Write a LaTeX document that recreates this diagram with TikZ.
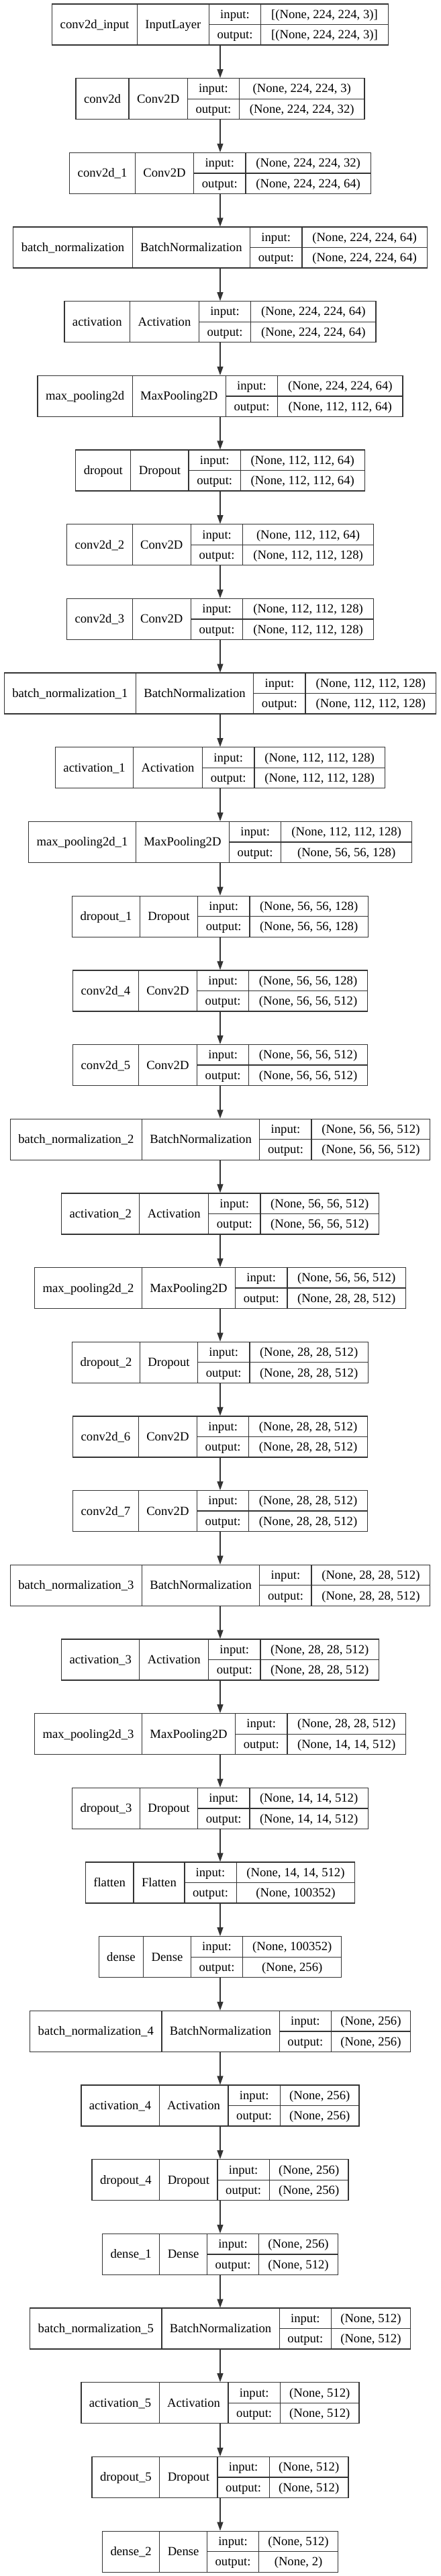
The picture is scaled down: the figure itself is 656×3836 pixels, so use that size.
\documentclass[tikz,border=0pt]{standalone}
\usepackage{fontspec}
\setmainfont{Liberation Serif}
\usetikzlibrary{arrows.meta}
\newlength\LA \newlength\LB \newlength\LC \newlength\LD \newlength\LE
\makeatletter
\AtBeginDocument{{\fontsize{18.67pt}{22pt}\selectfont
  \expandafter\global\expandafter\let\expandafter\kfont\font@name}}
\makeatother
\newcommand\lf{\kfont}
\def\padx{24}
\tikzset{
  box/.style={draw=black!80, line width=1.3pt, inner sep=0pt, outer sep=0pt},
  ln/.style={draw=black!80, line width=1.3pt},
  txt/.style={font=\lf, inner sep=0pt, anchor=base, text=black},
  arr/.style={draw=black!80, line width=1.3pt, -{Triangle[length=13pt,width=9pt]}, shorten >=0.6pt}
}
\newcommand\keraslayer[6]{%
  \settowidth\LA{\lf #3}%
  \settowidth\LB{\lf #4}%
  \settowidth\LC{\lf output:}%
  \settowidth\LD{\lf #5}%
  \settowidth\LE{\lf #6}%
  \ifdim\LE>\LD \LD=\LE\fi
  \pgfmathsetmacro\kwa{\the\LA+\padx}%
  \pgfmathsetmacro\kwb{\the\LB+\padx}%
  \pgfmathsetmacro\kwc{\the\LC+24.4}%
  \pgfmathsetmacro\kwd{1.05*\the\LD+23}%
  \pgfmathsetmacro\kW{\kwa+\kwb+\kwc+\kwd}%
  \pgfmathsetmacro\kxa{328-\kW/2}%
  \pgfmathsetmacro\kxb{\kxa+\kwa}%
  \pgfmathsetmacro\kxc{\kxb+\kwb}%
  \pgfmathsetmacro\kxd{\kxc+\kwc}%
  \pgfmathsetmacro\kxe{\kxa+\kW}%
  \pgfmathsetmacro\kya{6+#1*110.68}%
  \pgfmathsetmacro\kyb{\kya+61}%
  \pgfmathsetmacro\kym{\kya+30.5}%
  \pgfmathsetmacro\ktn{(\kxa+\kxb)/2}%
  \pgfmathsetmacro\ktc{(\kxb+\kxc)/2}%
  \pgfmathsetmacro\ktio{(\kxc+\kxd)/2}%
  \pgfmathsetmacro\kts{(\kxd+\kxe)/2}%
  \pgfmathsetmacro\kbm{\kym+6}%
  \pgfmathsetmacro\kbi{\kya+21.25}%
  \pgfmathsetmacro\kbo{\kya+51.75}%
  \node[box, minimum width=\kW pt, minimum height=61pt, anchor=north] (#2) at (328,\kya) {};
  \draw[ln] (\kxb,\kya) -- (\kxb,\kyb) (\kxc,\kya) -- (\kxc,\kyb) (\kxd,\kya) -- (\kxd,\kyb) (\kxc,\kym) -- (\kxe,\kym);
  \node[txt] (#2-name) at (\ktn,\kbm) {#3};
  \node[txt] (#2-class) at (\ktc,\kbm) {#4};
  \node[txt] (#2-il) at (\ktio,\kbi) {input:};
  \node[txt] (#2-ol) at (\ktio,\kbo) {output:};
  \node[txt] (#2-in) at (\kts,\kbi) {#5};
  \node[txt] (#2-out) at (\kts,\kbo) {#6};
}
\begin{document}
\begin{tikzpicture}[x=1pt,y=-1pt]
\fill[white] (0,0) rectangle (656,3836);
\useasboundingbox (0,0) rectangle (656,3836);
\keraslayer{0}{l1}{conv2d\_input}{InputLayer}{[(None, 224, 224, 3)]}{[(None, 224, 224, 3)]}
\keraslayer{1}{l2}{conv2d}{Conv2D}{(None, 224, 224, 3)}{(None, 224, 224, 32)}
\keraslayer{2}{l3}{conv2d\_1}{Conv2D}{(None, 224, 224, 32)}{(None, 224, 224, 64)}
\keraslayer{3}{l4}{batch\_normalization}{BatchNormalization}{(None, 224, 224, 64)}{(None, 224, 224, 64)}
\keraslayer{4}{l5}{activation}{Activation}{(None, 224, 224, 64)}{(None, 224, 224, 64)}
\keraslayer{5}{l6}{max\_pooling2d}{MaxPooling2D}{(None, 224, 224, 64)}{(None, 112, 112, 64)}
\keraslayer{6}{l7}{dropout}{Dropout}{(None, 112, 112, 64)}{(None, 112, 112, 64)}
\keraslayer{7}{l8}{conv2d\_2}{Conv2D}{(None, 112, 112, 64)}{(None, 112, 112, 128)}
\keraslayer{8}{l9}{conv2d\_3}{Conv2D}{(None, 112, 112, 128)}{(None, 112, 112, 128)}
\keraslayer{9}{l10}{batch\_normalization\_1}{BatchNormalization}{(None, 112, 112, 128)}{(None, 112, 112, 128)}
\keraslayer{10}{l11}{activation\_1}{Activation}{(None, 112, 112, 128)}{(None, 112, 112, 128)}
\keraslayer{11}{l12}{max\_pooling2d\_1}{MaxPooling2D}{(None, 112, 112, 128)}{(None, 56, 56, 128)}
\keraslayer{12}{l13}{dropout\_1}{Dropout}{(None, 56, 56, 128)}{(None, 56, 56, 128)}
\keraslayer{13}{l14}{conv2d\_4}{Conv2D}{(None, 56, 56, 128)}{(None, 56, 56, 512)}
\keraslayer{14}{l15}{conv2d\_5}{Conv2D}{(None, 56, 56, 512)}{(None, 56, 56, 512)}
\keraslayer{15}{l16}{batch\_normalization\_2}{BatchNormalization}{(None, 56, 56, 512)}{(None, 56, 56, 512)}
\keraslayer{16}{l17}{activation\_2}{Activation}{(None, 56, 56, 512)}{(None, 56, 56, 512)}
\keraslayer{17}{l18}{max\_pooling2d\_2}{MaxPooling2D}{(None, 56, 56, 512)}{(None, 28, 28, 512)}
\keraslayer{18}{l19}{dropout\_2}{Dropout}{(None, 28, 28, 512)}{(None, 28, 28, 512)}
\keraslayer{19}{l20}{conv2d\_6}{Conv2D}{(None, 28, 28, 512)}{(None, 28, 28, 512)}
\keraslayer{20}{l21}{conv2d\_7}{Conv2D}{(None, 28, 28, 512)}{(None, 28, 28, 512)}
\keraslayer{21}{l22}{batch\_normalization\_3}{BatchNormalization}{(None, 28, 28, 512)}{(None, 28, 28, 512)}
\keraslayer{22}{l23}{activation\_3}{Activation}{(None, 28, 28, 512)}{(None, 28, 28, 512)}
\keraslayer{23}{l24}{max\_pooling2d\_3}{MaxPooling2D}{(None, 28, 28, 512)}{(None, 14, 14, 512)}
\keraslayer{24}{l25}{dropout\_3}{Dropout}{(None, 14, 14, 512)}{(None, 14, 14, 512)}
\keraslayer{25}{l26}{flatten}{Flatten}{(None, 14, 14, 512)}{(None, 100352)}
\keraslayer{26}{l27}{dense}{Dense}{(None, 100352)}{(None, 256)}
\keraslayer{27}{l28}{batch\_normalization\_4}{BatchNormalization}{(None, 256)}{(None, 256)}
\keraslayer{28}{l29}{activation\_4}{Activation}{(None, 256)}{(None, 256)}
\keraslayer{29}{l30}{dropout\_4}{Dropout}{(None, 256)}{(None, 256)}
\keraslayer{30}{l31}{dense\_1}{Dense}{(None, 256)}{(None, 512)}
\keraslayer{31}{l32}{batch\_normalization\_5}{BatchNormalization}{(None, 512)}{(None, 512)}
\keraslayer{32}{l33}{activation\_5}{Activation}{(None, 512)}{(None, 512)}
\keraslayer{33}{l34}{dropout\_5}{Dropout}{(None, 512)}{(None, 512)}
\keraslayer{34}{l35}{dense\_2}{Dense}{(None, 512)}{(None, 2)}
\foreach \i [evaluate=\i as \j using int(\i+1)] in {1,...,34} {
  \draw[arr] (l\i.south) -- (l\j.north);
}
\end{tikzpicture}
\end{document}
